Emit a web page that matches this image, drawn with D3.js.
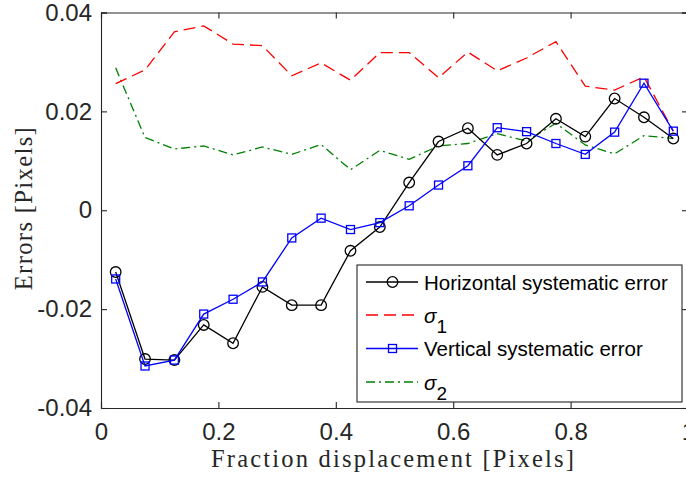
<!DOCTYPE html>
<html>
<head>
<meta charset="utf-8">
<script src="https://cdn.jsdelivr.net/npm/d3@7"></script>
<style>
  body { margin: 0; background: #fff; }
  svg { display: block; }
</style>
</head>
<body>
<div id="chart"></div>
<script>
// data
const fraction = [0.025, 0.075, 0.125, 0.175, 0.225, 0.275, 0.325, 0.375, 0.425, 0.475,
                  0.525, 0.575, 0.625, 0.675, 0.725, 0.775, 0.825, 0.875, 0.925, 0.975];
const horizontalErr = [-0.0125, -0.0301, -0.0303, -0.0232, -0.0269, -0.0155, -0.0192, -0.0192, -0.0082, -0.0034,
                       0.0056, 0.0139, 0.0166, 0.0112, 0.0135, 0.0185, 0.0149, 0.0226, 0.0188, 0.0145];
const sigma1 = [0.0256, 0.0284, 0.0361, 0.0373, 0.0336, 0.0333, 0.0272, 0.0298, 0.0263, 0.0319,
                0.0319, 0.0268, 0.0320, 0.0282, 0.0308, 0.0341, 0.0251, 0.0243, 0.0270, 0.0160];
const verticalErr = [-0.0139, -0.0315, -0.0303, -0.0210, -0.0180, -0.0145, -0.0056, -0.0016, -0.0039, -0.0025,
                     0.0009, 0.0051, 0.0090, 0.0167, 0.0159, 0.0135, 0.0113, 0.0158, 0.0257, 0.0160];
const sigma2 = [0.0288, 0.0147, 0.0124, 0.0130, 0.0112, 0.0128, 0.0113, 0.0133, 0.0082, 0.0121,
                0.0103, 0.0130, 0.0135, 0.0155, 0.0140, 0.0176, 0.0132, 0.0114, 0.0151, 0.0145];

const xTicks = [0, 0.2, 0.4, 0.6, 0.8, 1];
const yTicks = [-0.04, -0.02, 0, 0.02, 0.04];
const xTickLabels = ['0', '0.2', '0.4', '0.6', '0.8', '1'];
const yTickLabels = ['-0.04', '-0.02', '0', '0.02', '0.04'];

const series = [
  { label: 'Horizontal systematic error', values: horizontalErr, color: '#000000', dash: null, marker: 'circle' },
  { label: 'σ', sub: '1', values: sigma1, color: '#ff0000', dash: '12,6', marker: null },
  { label: 'Vertical systematic error', values: verticalErr, color: '#0000ff', dash: null, marker: 'square' },
  { label: 'σ', sub: '2', values: sigma2, color: '#008000', dash: '9,4,2,4', marker: null }
];

const width = 686, height = 484;
const margin = { top: 12.5, right: -2, bottom: 76, left: 101 };
const axisColor = '#262626';
const sansFont = '"Liberation Sans", Arial, sans-serif';
const serifFont = '"Liberation Serif", "Times New Roman", serif';

const svg = d3.select('#chart').append('svg')
  .attr('width', width)
  .attr('height', height);

svg.append('rect').attr('width', width).attr('height', height).attr('fill', '#fff');

const x = d3.scaleLinear().domain([0, 1]).range([margin.left, width - margin.right]);
const y = d3.scaleLinear().domain([-0.04, 0.04]).range([height - margin.bottom, margin.top]);

// axes, MATLAB style: box with inward ticks on all sides
const tickLen = 6;
const gx = svg.append('g')
  .attr('transform', `translate(0,${y(-0.04)})`)
  .call(d3.axisBottom(x).tickValues(xTicks).tickSize(-tickLen)
    .tickFormat((d, i) => xTickLabels[i]));
const gxTop = svg.append('g')
  .attr('transform', `translate(0,${y(0.04)})`)
  .call(d3.axisTop(x).tickValues(xTicks).tickSize(-tickLen).tickFormat(''));
const gy = svg.append('g')
  .attr('transform', `translate(${x(0)},0)`)
  .call(d3.axisLeft(y).tickValues(yTicks).tickSize(-tickLen).tickPadding(9)
    .tickFormat((d, i) => yTickLabels[i]));
const gyRight = svg.append('g')
  .attr('transform', `translate(${x(1)},0)`)
  .call(d3.axisRight(y).tickValues(yTicks).tickSize(-tickLen).tickFormat(''));

[gx, gxTop, gy, gyRight].forEach(g => {
  g.select('.domain').attr('stroke', axisColor).attr('stroke-width', 1.1);
  g.selectAll('.tick line').attr('stroke', axisColor).attr('stroke-width', 1.1);
  g.selectAll('.tick text')
    .attr('fill', axisColor)
    .style('font-family', sansFont)
    .style('font-size', '24px');
});
gx.selectAll('.tick text').attr('y', 32).attr('dy', 0);

// lines
const line = d3.line()
  .x((d, i) => x(fraction[i]))
  .y(d => y(d));

const plot = svg.append('g');

// sigma lines first, then the error lines with their markers on top
[series[3], series[1], series[0], series[2]].forEach(s => {
  plot.append('path')
    .datum(s.values)
    .attr('fill', 'none')
    .attr('stroke', s.color)
    .attr('stroke-width', 1.3)
    .attr('stroke-dasharray', s.dash)
    .attr('d', line);

  if (s.marker === 'circle') {
    plot.selectAll(null)
      .data(s.values)
      .enter()
      .append('circle')
      .attr('cx', (d, i) => x(fraction[i]))
      .attr('cy', d => y(d))
      .attr('r', 5.3)
      .attr('fill', 'none')
      .attr('stroke', s.color)
      .attr('stroke-width', 1.3);
  } else if (s.marker === 'square') {
    plot.selectAll(null)
      .data(s.values)
      .enter()
      .append('rect')
      .attr('x', (d, i) => x(fraction[i]) - 4)
      .attr('y', d => y(d) - 4)
      .attr('width', 8)
      .attr('height', 8)
      .attr('fill', 'none')
      .attr('stroke', s.color)
      .attr('stroke-width', 1.3);
  }
});

// axis labels
svg.append('text')
  .attr('x', (x(0) + x(1)) / 2 - 2)
  .attr('y', 466.5)
  .attr('text-anchor', 'middle')
  .attr('fill', axisColor)
  .attr('textLength', 363)
  .style('font-family', serifFont)
  .style('font-size', '24.5px')
  .text('Fraction displacement [Pixels]');

svg.append('text')
  .attr('transform', `translate(32,${(y(0.04) + y(-0.04)) / 2 - 1.5}) rotate(-90)`)
  .attr('text-anchor', 'middle')
  .attr('fill', axisColor)
  .attr('textLength', 163)
  .style('font-family', serifFont)
  .style('font-size', '24.5px')
  .text('Errors [Pixels]');

// legend
const legend = svg.append('g');
const lgBox = { x: 357, y: 265, w: 325, h: 137 };
legend.append('rect')
  .attr('x', lgBox.x)
  .attr('y', lgBox.y)
  .attr('width', lgBox.w)
  .attr('height', lgBox.h)
  .attr('fill', '#fff')
  .attr('stroke', axisColor)
  .attr('stroke-width', 1.1);

const rowY = [282, 315, 348.5, 382];
series.forEach((s, i) => {
  const ry = rowY[i];
  const row = legend.append('g');
  row.append('line')
    .attr('x1', 366).attr('x2', 418)
    .attr('y1', ry).attr('y2', ry)
    .attr('stroke', s.color)
    .attr('stroke-width', 1.3)
    .attr('stroke-dasharray', s.dash);
  if (s.marker === 'circle') {
    row.append('circle')
      .attr('cx', 392.5).attr('cy', ry).attr('r', 5.3)
      .attr('fill', 'none').attr('stroke', s.color).attr('stroke-width', 1.3);
  } else if (s.marker === 'square') {
    row.append('rect')
      .attr('x', 388.5).attr('y', ry - 4).attr('width', 8).attr('height', 8)
      .attr('fill', 'none').attr('stroke', s.color).attr('stroke-width', 1.3);
  }
  const t = row.append('text')
    .attr('x', 424)
    .attr('y', ry + 7.5)
    .attr('fill', '#000')
    .style('font-family', sansFont)
    .style('font-size', '20.5px');
  if (s.sub) {
    t.append('tspan').style('font-style', 'italic').text(s.label);
    t.append('tspan').attr('dy', 10).style('font-size', '19px').text(s.sub);
  } else {
    t.text(s.label);
  }
});
</script>
</body>
</html>
